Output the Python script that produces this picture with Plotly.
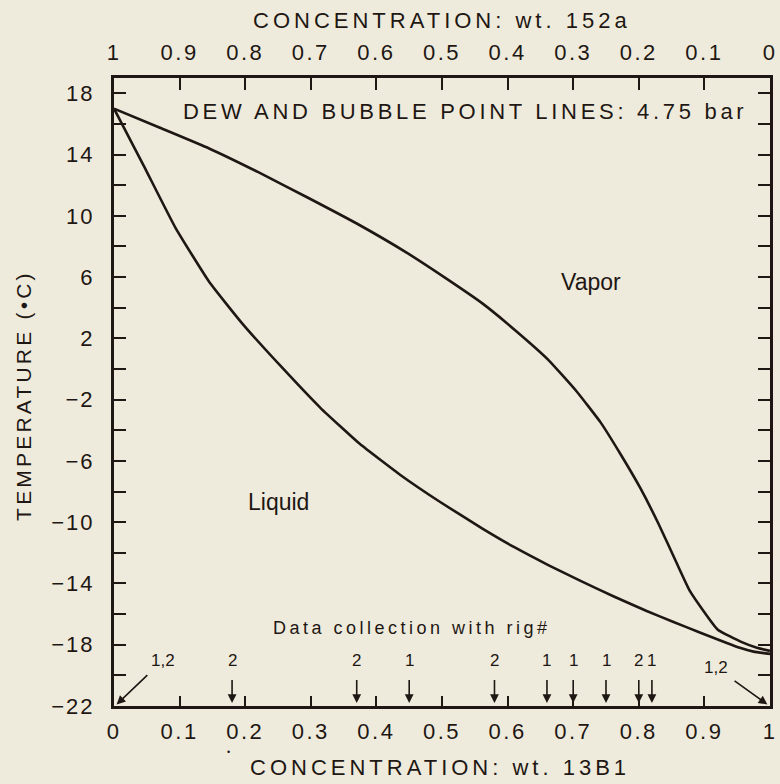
import plotly.graph_objects as go

# dew point line (upper) and bubble point line (lower), x = wt. fraction 13B1
dew_x = [0, 0.07, 0.145, 0.22, 0.295, 0.37, 0.446, 0.505, 0.561, 0.611, 0.662,
         0.705, 0.742, 0.772, 0.802, 0.83, 0.857, 0.878, 0.92, 0.958, 0.98, 1.0]
dew_t = [17.0, 15.75, 14.4, 12.85, 11.2, 9.5, 7.6, 5.95, 4.3, 2.55, 0.6,
         -1.45, -3.5, -5.55, -7.75, -10.1, -12.6, -14.5, -17.0, -17.85, -18.2, -18.4]

bub_x = [0, 0.045, 0.094, 0.145, 0.195, 0.255, 0.315, 0.375, 0.436, 0.496,
         0.561, 0.611, 0.662, 0.712, 0.762, 0.812, 0.852, 0.893, 0.954, 0.975, 1.0]
bub_t = [17.0, 13.3, 9.2, 5.7, 3.0, 0.15, -2.55, -4.9, -6.9, -8.65,
         -10.4, -11.65, -12.8, -13.85, -14.85, -15.8, -16.5, -17.2, -18.2, -18.45, -18.6]

# data collection points and rig number
rig_x = [0.18, 0.37, 0.45, 0.58, 0.66, 0.70, 0.75, 0.80, 0.82]
rig_no = ["2", "2", "1", "2", "1", "1", "1", "2", "1"]
rig_end_x = [0, 1]
rig_end_no = ["1,2", "1,2"]

x_ticks = [0, 0.1, 0.2, 0.3, 0.4, 0.5, 0.6, 0.7, 0.8, 0.9, 1]
x_ticktext = ["0", "0.1", "0.2", "0.3", "0.4", "0.5", "0.6", "0.7", "0.8", "0.9", "1"]
y_ticks = [-22, -18, -14, -10, -6, -2, 2, 6, 10, 14, 18]
y_ticktext = ["−22", "−18", "−14", "−10", "−6", "−2", "2", "6", "10", "14", "18"]
y_minor = [-20, -16, -12, -8, -4, 0, 4, 8, 12, 16]

BG = "#EFEBDC"
INK = "#1E1713"
FONT = "Liberation Sans, Arial, Helvetica, sans-serif"


def spaced(txt, px):
    return f'<span style="letter-spacing:{px}px">{txt}</span>'


fig = go.Figure()

fig.add_trace(go.Scatter(x=dew_x, y=dew_t, mode="lines",
                         line=dict(color=INK, width=2.6, shape="spline", smoothing=0.4)))
fig.add_trace(go.Scatter(x=bub_x, y=bub_t, mode="lines",
                         line=dict(color=INK, width=2.6, shape="spline", smoothing=0.4)))
# invisible trace so the top axis is drawn
fig.add_trace(go.Scatter(x=[0, 1], y=[0, 0], xaxis="x2", mode="lines",
                         line=dict(width=0), hoverinfo="skip"))

# arrows for the rig data points
for xv, lab in zip(rig_x, rig_no):
    fig.add_annotation(x=xv, y=-21.8, ax=xv, ay=-19.0, xref="x", yref="y",
                       axref="x", ayref="y", text=lab, showarrow=True,
                       arrowhead=2, arrowsize=1.1, arrowwidth=1.6, arrowcolor=INK,
                       startstandoff=9, font=dict(size=17, color=INK))

fig.add_annotation(x=rig_end_x[0] + 0.004, y=-21.9, ax=0.075, ay=-19.0, xref="x", yref="y",
                   axref="x", ayref="y", text=rig_end_no[0], showarrow=True,
                   arrowhead=2, arrowsize=1.1, arrowwidth=1.6, arrowcolor=INK,
                   startstandoff=6, font=dict(size=17, color=INK))
fig.add_annotation(x=rig_end_x[1] - 0.004, y=-21.9, ax=0.918, ay=-19.5, xref="x", yref="y",
                   axref="x", ayref="y", text=rig_end_no[1], showarrow=True,
                   arrowhead=2, arrowsize=1.1, arrowwidth=1.6, arrowcolor=INK,
                   startstandoff=6, font=dict(size=17, color=INK))

fig.add_annotation(x=0.455, y=-16.9, xref="x", yref="y", showarrow=False,
                   xanchor="center", yanchor="middle",
                   text=spaced("Data collection with rig#", 3.5),
                   font=dict(size=18, color=INK))

fig.add_annotation(x=0.102, y=16.8, xref="x", yref="y", xanchor="left", yanchor="middle",
                   showarrow=False,
                   text=spaced("DEW AND BUBBLE POINT LINES: 4.75 bar", 3.7),
                   font=dict(size=22, color=INK))
fig.add_annotation(x=0.727, y=5.7, xref="x", yref="y", showarrow=False,
                   xanchor="center", yanchor="middle",
                   text="Vapor", font=dict(size=23, color=INK))
fig.add_annotation(x=0.25, y=-8.7, xref="x", yref="y", showarrow=False,
                   xanchor="center", yanchor="middle",
                   text="Liquid", font=dict(size=23, color=INK))

# axis titles
fig.add_annotation(x=0.5, y=1.092, xref="paper", yref="paper", showarrow=False,
                   xanchor="center", yanchor="middle",
                   text=spaced("CONCENTRATION: wt. 152a", 4), font=dict(size=22, color=INK))
fig.add_annotation(x=0.497, y=-0.098, xref="paper", yref="paper", showarrow=False,
                   xanchor="center", yanchor="middle",
                   text=spaced("CONCENTRATION: wt. 13B1", 4), font=dict(size=22, color=INK))
fig.add_annotation(x=-0.137, y=0.494, xref="paper", yref="paper", showarrow=False,
                   xanchor="center", yanchor="middle",
                   textangle=-90, text=spaced("TEMPERATURE (•C)", 3.2),
                   font=dict(size=21, color=INK))
fig.add_annotation(x=0.175, y=-0.073, xref="paper", yref="paper", showarrow=False,
                   xanchor="center", yanchor="middle",
                   text="•", font=dict(size=9, color=INK))

axis_common = dict(showgrid=False, zeroline=False, showline=True, linewidth=3,
                   linecolor=INK, tickcolor=INK, tickwidth=2,
                   ticklabeloverflow="allow",
                   tickfont=dict(size=22, color=INK, family=FONT))

fig.update_layout(
    width=780, height=784,
    margin=dict(l=114, r=3, t=78, b=78),
    paper_bgcolor=BG, plot_bgcolor=BG,
    showlegend=False,
    font=dict(family=FONT, size=21, color=INK),
    xaxis=dict(range=[0, 1], tickvals=x_ticks,
               ticktext=[spaced(t, 2.5) for t in x_ticktext],
               ticks="inside", ticklen=10, ticklabelstandoff=4, **axis_common),
    xaxis2=dict(range=[1, 0], overlaying="x", side="top", tickvals=x_ticks,
                ticktext=[spaced(t, 2.5) for t in x_ticktext],
                ticks="inside", ticklen=12, ticklabelstandoff=6, **axis_common),
    yaxis=dict(range=[-22, 19], tickvals=y_ticks,
               ticktext=[spaced(t, 2) for t in y_ticktext],
               ticks="inside", ticklen=12,
               mirror="ticks", ticklabelstandoff=12,
               minor=dict(tickvals=y_minor, ticks="inside", ticklen=12,
                          tickcolor=INK, tickwidth=2),
               **axis_common),
)

fig.write_html("out.html", config={"displayModeBar": False},
               post_script="document.body.style.margin='0';")
